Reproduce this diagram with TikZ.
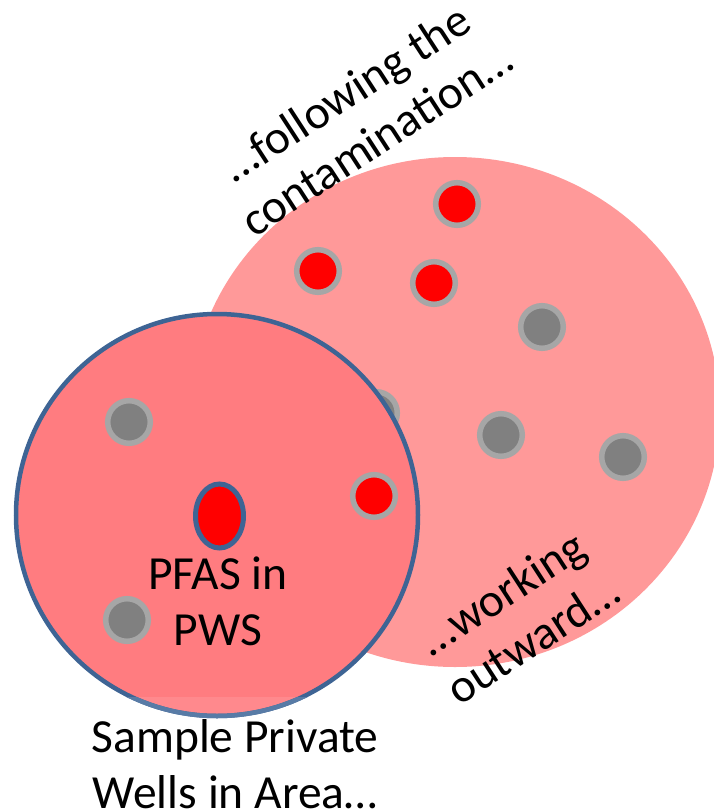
\documentclass[tikz,border=0pt]{standalone}
\usepackage{fontspec}
\setmainfont{Carlito}
\usetikzlibrary{shapes.geometric}
\definecolor{bigpink}{HTML}{FF9999}
\definecolor{smallpink}{HTML}{FF7C80}
\definecolor{smallpinklow}{HTML}{FF898D}
\definecolor{rimblue}{HTML}{3E6494}
\definecolor{rimbluelow}{HTML}{587BA6}
\definecolor{dotgray}{HTML}{808080}
\definecolor{dotrim}{HTML}{A6A6A6}
\tikzset{
  well/.style={circle, inner sep=0pt, minimum size=42.6pt, line width=5.5pt, draw=dotrim},
  graywell/.style={well, fill=dotgray},
  redwell/.style={well, fill=red},
  label/.style={font=\fontsize{47.5}{56}\selectfont, align=center, text=black, inner sep=0pt},
}
\begin{document}
\begin{tikzpicture}[x=1pt,y=-1pt]
\useasboundingbox (0,0) rectangle (714,811);
% large contamination area
\fill[bigpink] (455,412) ellipse [x radius=265pt, y radius=255pt];
% wells in the large area
\node[redwell]  (r1) at (457,204) {};
\node[redwell]  (r2) at (318,271) {};
\node[redwell]  (r3) at (434,283) {};
\node[graywell] (g1) at (542,327) {};
\node[graywell] (g2) at (376,413) {};
\node[graywell] (g3) at (501,435) {};
\node[graywell] (g4) at (623,457) {};
% sample area circle
\fill[smallpink] (217,515) circle [radius=201pt];
\begin{scope}
  \clip (0,697) rectangle (714,811);
  \fill[smallpinklow] (217,515) circle [radius=201pt];
\end{scope}
\draw[rimblue, line width=4.5pt] (217,515) circle [radius=201pt];
\begin{scope}
  \clip (0,697) rectangle (714,811);
  \draw[rimbluelow, line width=4.5pt] (217,515) circle [radius=201pt];
\end{scope}
% wells inside sample area
\node[graywell] (g5) at (129,422) {};
\node[graywell] (g6) at (127,620) {};
\node[redwell]  (r4) at (374,496) {};
\node[ellipse, inner sep=0pt, minimum width=48pt, minimum height=64pt, fill=red, draw=rimblue, line width=5pt] (pws) at (219.5,516) {};
% texts
\node[label] (t1) at (218,601) {PFAS in\\PWS};
\node[label] (t2) at (235,764) {Sample Private\\Wells in Area…};
\node[label, rotate=33] (t3) at (361,116) {…following the\\contamination…};
\node[label, rotate=33] (t4) at (517,616) {…working\\outward…};
\end{tikzpicture}
\end{document}
